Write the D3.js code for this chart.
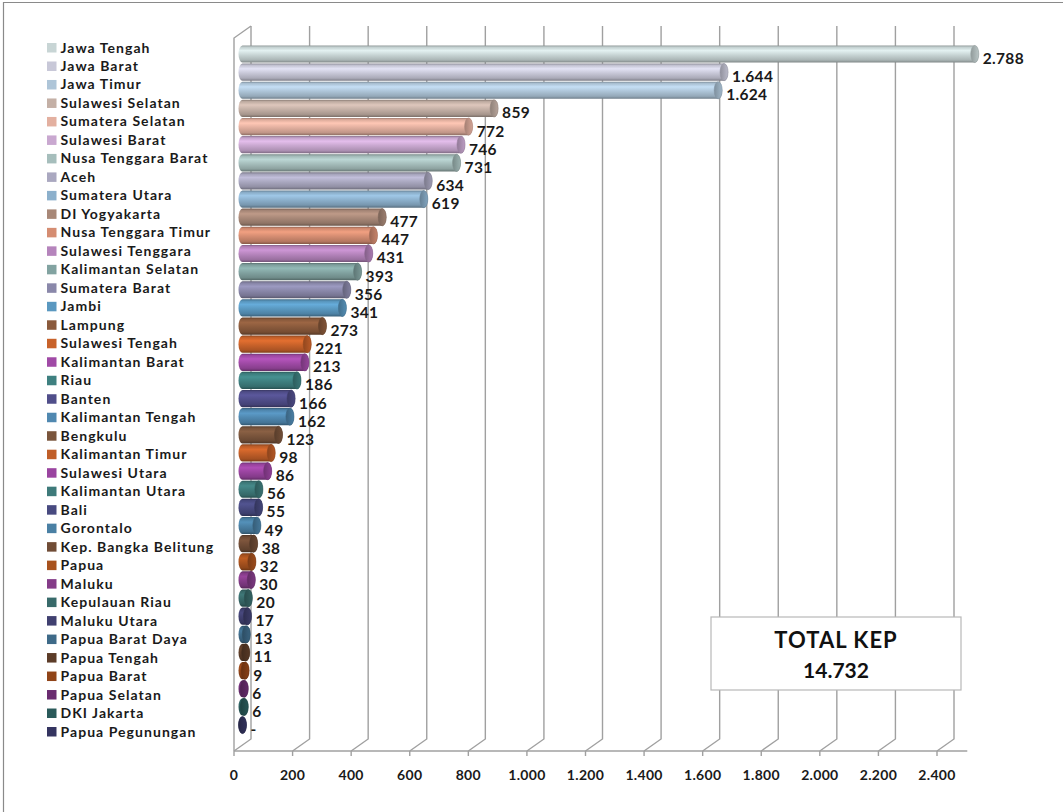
<!DOCTYPE html>
<html><head><meta charset="utf-8">
<script src="https://cdn.jsdelivr.net/npm/d3@7"></script>
<style>
html,body{margin:0;padding:0;background:#fff;}
svg{display:block;font-family:Lato,"Open Sans",sans-serif;}
</style></head>
<body><svg id="c" width="1063" height="812"></svg>
<script>
const categories = ["Jawa Tengah","Jawa Barat","Jawa Timur","Sulawesi Selatan","Sumatera Selatan","Sulawesi Barat","Nusa Tenggara Barat","Aceh","Sumatera Utara","DI Yogyakarta","Nusa Tenggara Timur","Sulawesi Tenggara","Kalimantan Selatan","Sumatera Barat","Jambi","Lampung","Sulawesi Tengah","Kalimantan Barat","Riau","Banten","Kalimantan Tengah","Bengkulu","Kalimantan Timur","Sulawesi Utara","Kalimantan Utara","Bali","Gorontalo","Kep. Bangka Belitung","Papua","Maluku","Kepulauan Riau","Maluku Utara","Papua Barat Daya","Papua Tengah","Papua Barat","Papua Selatan","DKI Jakarta","Papua Pegunungan"];
const values = [2788,1644,1624,859,772,746,731,634,619,477,447,431,393,356,341,273,221,213,186,166,162,123,98,86,56,55,49,38,32,30,20,17,13,11,9,6,6,0];
const colors = ["#c8d5d5","#c8c8d8","#aec5d8","#c4b0a6","#e3b0a0","#c9a8d0","#a6bebc","#aaa8c0","#8cb0cc","#a88878","#d58d72","#b584bc","#82a3a1","#8a88aa","#5a98c0","#8a5a3c","#c8622a","#a04aa6","#3e8080","#504e8a","#5088b0","#7a553c","#c05e28","#9a44a0","#3e7a7a","#484a80","#4a80a4","#704c36","#a8521e","#843c88","#386a6a","#404070","#3e6a88","#5c3c28","#904418","#6a2c70","#2a5a5a","#343460"];
const tickValues = [0,200,400,600,800,1000,1200,1400,1600,1800,2000,2200,2400];
const axisMax = 2500;
const totalTitle = "TOTAL KEP";

const svg = d3.select("#c");
const loc = d3.formatLocale({decimal:",",thousands:".",grouping:[3],currency:["",""]});
const fmt = v => v === 0 ? "-" : loc.format(",d")(v);

const x = d3.scaleLinear().domain([0, 2400]).range([234, 937]);
const dx = 17, dy = -12;          // depth offset
const floorY = 751, topY = 26;
const yBar = d3.scalePoint().domain(categories).range([54, 725]);
const yLeg = d3.scalePoint().domain(categories).range([52.5, 736.5]);
const gridC = "#a0a0a0";

// outer frame (top & left visible)
svg.append("line").attr("x1",3).attr("x2",1063).attr("y1",2.5).attr("y2",2.5).attr("stroke","#8a8a8a").attr("stroke-width",1.2);
svg.append("line").attr("x1",3.5).attr("x2",3.5).attr("y1",2).attr("y2",812).attr("stroke","#8a8a8a").attr("stroke-width",1.2);

// gridlines + floor
const g = svg.append("g");
tickValues.forEach(t => {
  const fx = x(t);
  g.append("path")
    .attr("d", `M${fx},${floorY} L${fx+dx},${floorY+dy} L${fx+dx},${topY}`)
    .attr("fill","none").attr("stroke",gridC).attr("stroke-width",1.4);
  g.append("line").attr("x1",fx).attr("x2",fx).attr("y1",floorY).attr("y2",floorY+5)
    .attr("stroke",gridC).attr("stroke-width",1.4);
});
// left wall
g.append("path")
  .attr("d", `M${x(0)},${floorY} L${x(0)},${topY-dy} L${x(0)+dx},${topY}`)
  .attr("fill","none").attr("stroke",gridC).attr("stroke-width",1.4);
// front axis line
g.append("line").attr("x1",x(0)).attr("x2",x(axisMax)+1).attr("y1",floorY).attr("y2",floorY)
  .attr("stroke",gridC).attr("stroke-width",1.6);

// axis labels
svg.append("g").selectAll("text").data(tickValues).join("text")
  .attr("x", d => x(d)).attr("y", 780).attr("text-anchor","middle")
  .attr("font-size",14).attr("font-weight",700).attr("letter-spacing",0.3).attr("fill","#1a1a1a")
  .text(d => fmt(d) === "-" ? "0" : fmt(d));

// gradients
const defs = svg.append("defs");
categories.forEach((c,i) => {
  const base = d3.color(colors[i]);
  const gr = defs.append("linearGradient").attr("id","gb"+i).attr("x1",0).attr("x2",0).attr("y1",0).attr("y2",1);
  [[0, base.darker(1.0)],[0.1, base.darker(0.1)],[0.3, base.brighter(0.35)],[0.55, base],[0.85, base.darker(0.45)],[1, base.darker(1.3)]]
    .forEach(([o,col]) => gr.append("stop").attr("offset",o).attr("stop-color",col));
  const gc = defs.append("linearGradient").attr("id","gc"+i).attr("x1",0).attr("x2",1).attr("y1",0).attr("y2",0);
  [[0, base.darker(0.9)],[0.6, base.darker(0.45)],[1, base.darker(0.2)]]
    .forEach(([o,col]) => gc.append("stop").attr("offset",o).attr("stop-color",col));
});

// bars (cylinders)
const r = 8.6, rx = 4;
const bars = svg.append("g");
categories.forEach((c,i) => {
  const v = Math.min(values[i], axisMax);
  const cy = yBar(c);
  const x0 = x(0) + dx/2, x1 = x(v) + dx/2;
  bars.append("path")
    .attr("d", `M${x0},${cy-r} L${x1},${cy-r} A${rx},${r} 0 0 1 ${x1},${cy+r} L${x0},${cy+r} A${rx},${r} 0 0 1 ${x0},${cy-r} Z`)
    .attr("fill", `url(#gb${i})`);
  bars.append("ellipse").attr("cx", x1).attr("cy", cy).attr("rx", rx).attr("ry", r)
    .attr("fill", `url(#gc${i})`).attr("stroke", d3.color(colors[i]).darker(0.8)).attr("stroke-width",0.6);
});

// value labels
svg.append("g").selectAll("text").data(categories).join("text")
  .attr("x", (c,i) => x(Math.min(values[i],axisMax)) + dx/2 + 8)
  .attr("y", c => yBar(c) + 10)
  .attr("font-size",15.5).attr("font-weight",700).attr("letter-spacing",0.3).attr("fill","#1a1a1a")
  .text((c,i) => fmt(values[i]));

// legend
const leg = svg.append("g").selectAll("g").data(categories).join("g");
leg.append("rect").attr("x",47).attr("y", c => yLeg(c) - 9.5).attr("width",9.5).attr("height",9.5)
  .attr("fill",(c,i) => colors[i]);
leg.append("text").attr("x",60.5).attr("y", c => yLeg(c))
  .attr("font-size",14).attr("font-weight",700).attr("letter-spacing",1.05).attr("fill","#1a1a1a")
  .text(c => c);

// total box
const bx = 711, by = 617, bw = 250, bh = 73;
svg.append("rect").attr("x",bx).attr("y",by).attr("width",bw).attr("height",bh)
  .attr("fill","#fff").attr("stroke","#b8b8b8").attr("stroke-width",1.2);
svg.append("text").attr("x",bx+bw/2).attr("y",by+31).attr("text-anchor","middle")
  .attr("font-size",22).attr("font-weight",700).attr("letter-spacing",1).attr("fill","#111").text(totalTitle);
svg.append("text").attr("x",bx+bw/2).attr("y",by+61).attr("text-anchor","middle")
  .attr("font-size",21).attr("font-weight",700).attr("fill","#111").text(loc.format(",d")(d3.sum(values)));
</script></body></html>
